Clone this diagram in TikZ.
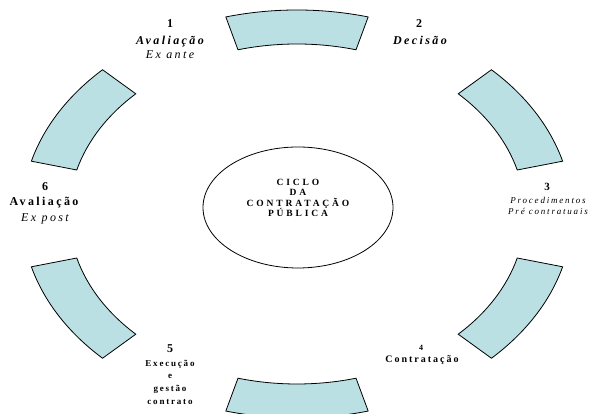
\documentclass[tikz,border=0pt]{standalone}
\usepackage{fontspec}
\setmainfont{Liberation Serif}
\newfontfamily\spfont[LetterSpace=20]{Liberation Serif}
\newfontfamily\spcfont[LetterSpace=30]{Liberation Serif}
\usetikzlibrary{calc}
\definecolor{segfill}{RGB}{186,224,227}
\tikzset{
  seg/.style={draw=black, line width=0.8pt, fill=segfill, line join=miter},
  lbl/.style={anchor=base, inner sep=0pt, outer sep=0pt},
}
\newcommand{\ringseg}[2]{%
  \draw[seg] ($(rc)+(#1:275 and 204)$) arc[start angle=#1, end angle=#2, x radius=275, y radius=204]
    -- ($(rc)+(#2:228 and 170)$) arc[start angle=#2, end angle=#1, x radius=228, y radius=170] -- cycle;}
\begin{document}
\begin{tikzpicture}[x=1pt,y=1pt]
\useasboundingbox (0,0) rectangle (590,414);
\coordinate (rc) at (297,200);
\ringseg{75}{105}
\ringseg{135}{165}
\ringseg{195}{225}
\ringseg{255}{285}
\ringseg{315}{345}
\ringseg{15}{45}
% central ellipse
\draw[line width=0.8pt] (298,206.5) ellipse[x radius=95, y radius=60.5];
\node[lbl] (h1) at (298,228) {\fontsize{9.5}{10}\selectfont\spcfont\bfseries CICLO};
\node[lbl] (h2) at (298,218) {\fontsize{9.5}{10}\selectfont\spcfont\bfseries DA};
\node[lbl] (h3) at (298,207) {\fontsize{9.5}{10}\selectfont\spcfont\bfseries CONTRATAÇÃO};
\node[lbl] (h4) at (298,197) {\fontsize{9.5}{10}\selectfont\spcfont\bfseries PÚBLICA};
% label 1
\node[lbl] (a1) at (170,386) {\fontsize{12}{14}\selectfont\bfseries 1};
\node[lbl] (a2) at (170,369) {\fontsize{12}{14}\selectfont\spfont\bfseries\itshape Avaliação};
\node[lbl] (a3) at (170,355) {\fontsize{12}{14}\selectfont\spfont\itshape Ex ante};
% label 2
\node[lbl] (b1) at (419,386) {\fontsize{12}{14}\selectfont\bfseries 2};
\node[lbl] (b2) at (420,369) {\fontsize{12}{14}\selectfont\spfont\bfseries\itshape Decisão};
% label 3
\node[lbl] (c1) at (547,223) {\fontsize{11}{13}\selectfont\bfseries 3};
\node[lbl] (c2) at (548,210) {\fontsize{9}{11}\selectfont\spfont\itshape Procedimentos};
\node[lbl] (c3) at (548,199) {\fontsize{9}{11}\selectfont\spfont\itshape Pré contratuais};
% label 4
\node[lbl] (d1) at (421,63) {\fontsize{8}{10}\selectfont\bfseries 4};
\node[lbl] (d2) at (422,51) {\fontsize{10}{12}\selectfont\spfont\bfseries Contratação};
% label 5
\node[lbl] (e1) at (170,61) {\fontsize{12}{14}\selectfont\bfseries 5};
\node[lbl] (e2) at (170,47) {\fontsize{9}{11}\selectfont\spfont\bfseries Execução};
\node[lbl] (e3) at (170,35) {\fontsize{9}{11}\selectfont\spfont\bfseries e};
\node[lbl] (e4) at (170,22) {\fontsize{9}{11}\selectfont\spfont\bfseries gestão};
\node[lbl] (e5) at (170,9) {\fontsize{9}{11}\selectfont\spfont\bfseries contrato};
% label 6
\node[lbl] (f1) at (45,223) {\fontsize{12}{14}\selectfont\bfseries 6};
\node[lbl] (f2) at (44,208) {\fontsize{12}{14}\selectfont\spfont\bfseries Avaliação};
\node[lbl] (f3) at (45,192) {\fontsize{12}{14}\selectfont\spfont\itshape Ex post};
\end{tikzpicture}
\end{document}
